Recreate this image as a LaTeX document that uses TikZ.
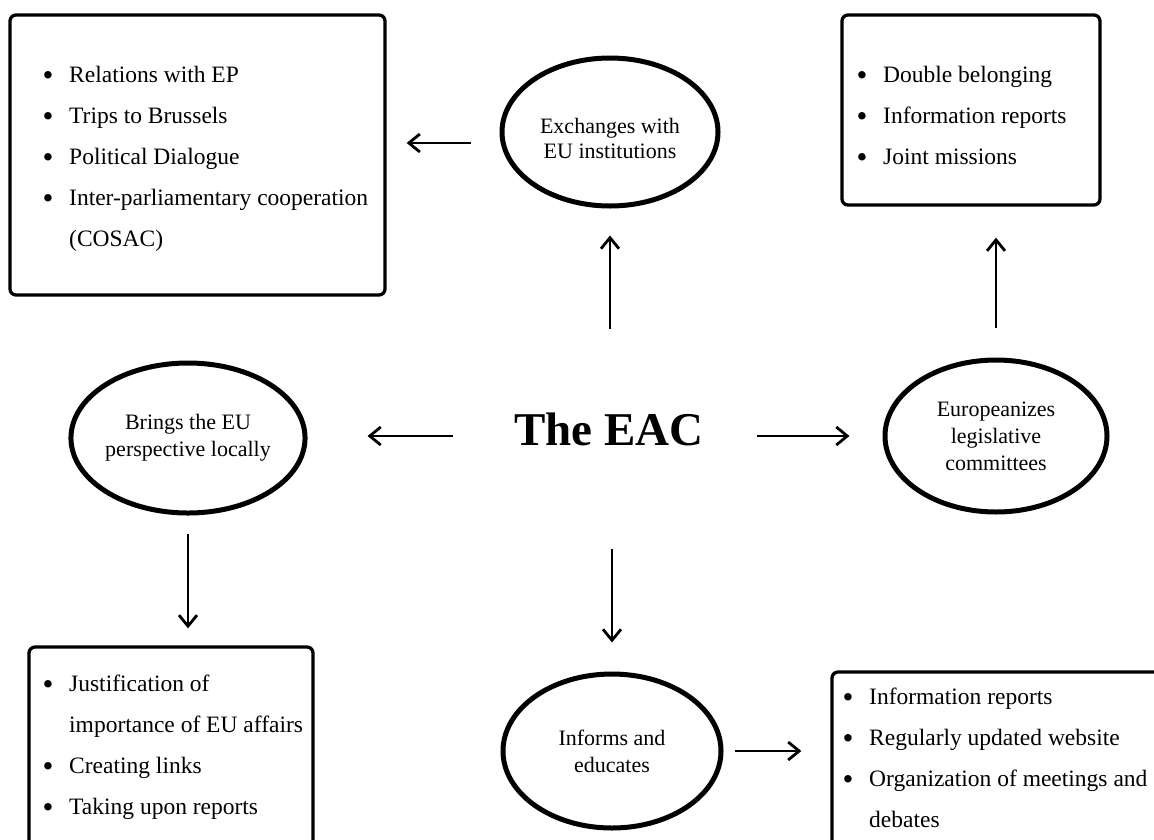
\documentclass[tikz,border=0pt]{standalone}
\usepackage{fontspec}
\setmainfont{Liberation Serif}
\usetikzlibrary{shapes.geometric,arrows.meta,calc}
\tikzset{
  boxshape/.style={draw, line width=3.3pt, rounded corners=6pt, inner sep=0pt},
  oval/.style={draw, ellipse, line width=5pt, inner sep=0pt, align=center, font=\fontsize{22}{27}\selectfont},
  ovaltext/.style={inner sep=0pt, align=center, font=\fontsize{22}{25}\selectfont},
  listtext/.style={inner sep=0pt, anchor=base west, font=\fontsize{23.5}{41}\selectfont},
  arr/.style={line width=2.8pt, -{Straight Barb[length=11pt,width=18pt]}},
}
\newcommand{\bulmark}{\makebox[25pt][l]{\hspace{-1.5pt}\raisebox{-3.5pt}{\fontsize{31}{31}\selectfont\textbullet}}}
\begin{document}
\begin{tikzpicture}[x=1pt,y=-1pt]
\clip (0,0) rectangle (1154,839);
\fill[white] (0,0) rectangle (1154,839);
% boxes
\node[boxshape, minimum width=375pt, minimum height=280pt] (tlbox) at (197.5,155) {};
\node[boxshape, minimum width=258pt, minimum height=190pt] (trbox) at (971,110) {};
\node[boxshape, minimum width=284pt, minimum height=220pt] (blbox) at (171,757) {};
\node[boxshape, minimum width=340pt, minimum height=200pt] (brbox) at (1002,772) {};
% box texts
\node[listtext] (tltext) at (44,82) {\begin{tabular}[t]{@{}l@{}l@{}}
\bulmark & Relations with EP\\
\bulmark & Trips to Brussels\\
\bulmark & Political Dialogue\\
\bulmark & Inter-parliamentary cooperation\\
 & (COSAC)
\end{tabular}};
\node[listtext] (trtext) at (858,82) {\begin{tabular}[t]{@{}l@{}l@{}}
\bulmark & Double belonging\\
\bulmark & Information reports\\
\bulmark & Joint missions
\end{tabular}};
\node[listtext] (bltext) at (44,691) {\begin{tabular}[t]{@{}l@{}l@{}}
\bulmark & Justification of\\
 & importance of EU affairs\\
\bulmark & Creating links\\
\bulmark & Taking upon reports
\end{tabular}};
\node[listtext] (brtext) at (844,704) {\begin{tabular}[t]{@{}l@{}l@{}}
\bulmark & Information reports\\
\bulmark & Regularly updated website\\
\bulmark & Organization of meetings and\\
 & debates
\end{tabular}};
% ellipses
\node[oval, minimum width=216pt, minimum height=148pt] (top) at (610,132) {};
\node[ovaltext] (toptext) at (610,138) {Exchanges with\\EU institutions};
\node[oval, minimum width=220pt, minimum height=150pt] (left) at (188,438) {Brings the EU\\perspective locally};
\node[oval, minimum width=222pt, minimum height=152pt] (right) at (996,436) {Europeanizes\\legislative\\committees};
\node[oval, minimum width=218pt, minimum height=154pt] (bot) at (612,751) {Informs and\\educates};
% centre
\node[font=\bfseries\fontsize{47}{50}\selectfont, inner sep=0pt, anchor=base] (eac) at (609,445) {The EAC};
% arrows
\draw[arr, shorten <=83pt, shorten >=27pt] (eac.north -| top.south) -- (top.south);
\draw[arr, shorten <=61pt, shorten >=60pt] (eac.west |- right.west) -- (right.west -| left.east);
\draw[arr, shorten <=53pt, shorten >=33pt] (eac.east |- right.west) -- (right.west);
\draw[arr, shorten <=103pt, shorten >=29pt] (eac.south -| bot.north) -- (bot.north);
\draw[arr, shorten <=29pt, shorten >=20pt] ($(top.west)+(0,11)$) -- ($(top.west -| tlbox.east)+(0,11)$);
\draw[arr, shorten <=30pt, shorten >=31pt] (right.north) -- (right.north |- trbox.south);
\draw[arr, shorten <=18pt, shorten >=17pt] (left.south) -- (left.south |- blbox.north);
\draw[arr, shorten <=11pt, shorten >=29pt] (bot.east) -- (bot.east -| brbox.west);
\end{tikzpicture}
\end{document}
